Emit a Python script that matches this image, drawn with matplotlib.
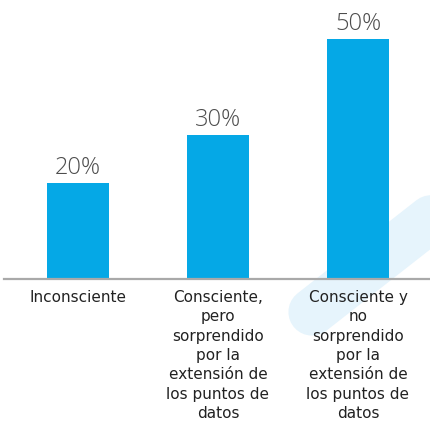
import matplotlib
matplotlib.use("Agg")
from matplotlib import pyplot as plt
from matplotlib import lines as mlines

categories = [
    "Inconsciente",
    "Consciente,\npero\nsorprendido\npor la\nextensión de\nlos puntos de\ndatos",
    "Consciente y\nno\nsorprendido\npor la\nextensión de\nlos puntos de\ndatos",
]
values = [20, 30, 50]
value_labels = ["20%", "30%", "50%"]

BAR_COLOR = "#05a8e6"
W, H, DPI = 430, 422, 100

fig = plt.figure(figsize=(W / DPI, H / DPI), dpi=DPI)

# faint background swoosh (decoration)
swoosh = mlines.Line2D([312 / W, 455 / W], [1 - 312 / H, 1 - 200 / H],
                       transform=fig.transFigure, color="#e6f4fc",
                       linewidth=34, solid_capstyle="round", zorder=0)
fig.add_artist(swoosh)

ax = fig.add_axes([4 / W, 1 - 279 / H, 426 / W, 279 / H])
ax.patch.set_alpha(0)

x = list(range(len(values)))
bars = ax.bar(x, values, width=0.443, color=BAR_COLOR, zorder=2)

ax.set_xlim((4 - 78) / 140, (430 - 78) / 140)
ax.set_ylim(0, 279 / 4.8)

for rect, lab in zip(bars, value_labels):
    ax.annotate(lab, (rect.get_x() + rect.get_width() / 2, rect.get_height()),
                xytext=(0, 2), textcoords="offset points",
                ha="center", va="bottom", fontsize=17, color="#4d4d4d",
                family=["Open Sans", "DejaVu Sans"], fontweight="light")

ax.set_xticks(x)
ax.set_xticklabels(categories, fontsize=11, family="DejaVu Sans",
                   color="#222222", linespacing=1.36, ha="center", va="top")
ax.tick_params(axis="x", length=0, pad=8)
ax.set_yticks([])

for side in ("top", "right", "left"):
    ax.spines[side].set_visible(False)
ax.spines["bottom"].set_color("#a9a9a9")
ax.spines["bottom"].set_linewidth(1.6)

fig.savefig("out.png", dpi=DPI)
